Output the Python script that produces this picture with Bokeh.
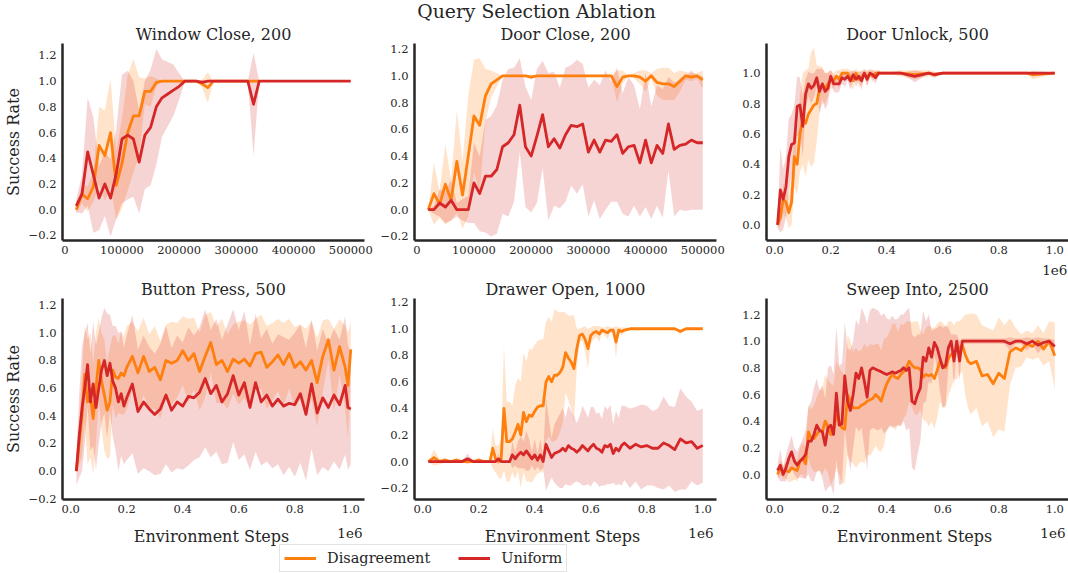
import numpy as np
from bokeh.plotting import figure
from bokeh.layouts import column, row
from bokeh.models import (Range1d, FixedTicker, CustomJSTickFormatter, Label, Legend, LegendItem,
                          LinearAxis)
from bokeh.embed import file_html
from bokeh.resources import INLINE

# ---------------- data ----------------
# Window Close, 200
WC_X_DIS = list(range(20000, 340001, 10000))
WC_X_UNI = list(range(20000, 500001, 10000))
WC_DIS_MEAN = [0.0, 0.12, 0.085, 0.18, 0.5, 0.42, 0.6, 0.19, 0.36, 0.6,
               0.73, 0.73, 0.92, 0.92, 0.99, 1.0, 1.0, 1.0, 1.0, 1.0,
               1.0, 1.0, 0.98, 0.95, 1.0, 1.0, 1.0, 1.0, 1.0, 1.0,
               1.0, 1.0, 1.0]
WC_DIS_STD = [0.03, 0.07, 0.1, 0.12, 0.3, 0.35, 0.42, 0.27, 0.35, 0.45,
              0.44, 0.3, 0.1, 0.12, 0.03, 0.0, 0.0, 0.0, 0.0, 0.0,
              0.0, 0.0, 0.03, 0.12, 0.0, 0.0, 0.0, 0.0, 0.0, 0.0,
              0.0, 0.0, 0.0]
WC_UNI_MEAN = [0.03, 0.12, 0.45, 0.27, 0.09, 0.2, 0.09, 0.28, 0.55, 0.58,
               0.55, 0.37, 0.58, 0.64, 0.8, 0.87, 0.9, 0.93, 0.96, 1.0,
               1.0, 1.0, 0.99, 1.0, 1.0, 1.0, 1.0, 1.0, 1.0, 1.0,
               1.0, 0.82, 1.0, 1.0, 1.0, 1.0, 1.0, 1.0, 1.0, 1.0,
               1.0, 1.0, 1.0, 1.0, 1.0, 1.0, 1.0, 1.0, 1.0]
WC_UNI_STD = [0.05, 0.15, 0.42, 0.45, 0.25, 0.25, 0.3, 0.35, 0.5, 0.5,
              0.45, 0.4, 0.42, 0.45, 0.45, 0.3, 0.25, 0.2, 0.1, 0.0,
              0.0, 0.0, 0.02, 0.0, 0.0, 0.0, 0.0, 0.0, 0.0, 0.0,
              0.0, 0.4, 0.0, 0.0, 0.0, 0.0, 0.0, 0.0, 0.0, 0.0,
              0.0, 0.0, 0.0, 0.0, 0.0, 0.0, 0.0, 0.0, 0.0]

# Door Close, 200
DC_X = list(range(20000, 500001, 10000))
DC_DIS_MEAN = [0.0, 0.12, 0.04, 0.19, 0.07, 0.36, 0.11, 0.4, 0.7, 0.63,
               0.85, 0.94, 0.97, 1.0, 1.0, 1.0, 1.0, 1.0, 0.99, 1.0,
               1.0, 1.0, 1.0, 1.0, 1.0, 1.0, 1.0, 1.0, 1.0, 1.0,
               1.0, 1.0, 1.0, 0.92, 0.99, 1.0, 1.0, 0.99, 0.96, 1.0,
               0.95, 0.94, 0.94, 0.92, 0.96, 1.0, 0.99, 1.0, 0.97]
DC_DIS_STD = [0.0, 0.23, 0.1, 0.3, 0.15, 0.38, 0.25, 0.45, 0.42, 0.5,
              0.2, 0.1, 0.05, 0.0, 0.0, 0.0, 0.0, 0.0, 0.02, 0.0,
              0.0, 0.0, 0.0, 0.0, 0.0, 0.0, 0.0, 0.0, 0.0, 0.0,
              0.0, 0.0, 0.0, 0.12, 0.05, 0.0, 0.02, 0.05, 0.08, 0.02,
              0.1, 0.12, 0.12, 0.1, 0.08, 0.03, 0.03, 0.02, 0.07]
DC_UNI_MEAN = [0.0, 0.0, 0.05, 0.02, 0.07, 0.0, 0.0, 0.0, 0.2, 0.12,
               0.25, 0.25, 0.3, 0.47, 0.5, 0.56, 0.78, 0.47, 0.4, 0.55,
               0.71, 0.47, 0.53, 0.46, 0.56, 0.63, 0.62, 0.64, 0.43, 0.52,
               0.43, 0.52, 0.51, 0.56, 0.42, 0.47, 0.48, 0.35, 0.52, 0.35,
               0.48, 0.42, 0.64, 0.45, 0.48, 0.49, 0.52, 0.5, 0.5]
DC_UNI_STD = [0.0, 0.03, 0.1, 0.12, 0.15, 0.05, 0.08, 0.1, 0.3, 0.28,
              0.42, 0.45, 0.48, 0.5, 0.55, 0.5, 0.35, 0.45, 0.42, 0.5,
              0.4, 0.55, 0.5, 0.45, 0.5, 0.45, 0.5, 0.45, 0.48, 0.45,
              0.5, 0.52, 0.45, 0.5, 0.45, 0.52, 0.45, 0.4, 0.5, 0.42,
              0.45, 0.48, 0.35, 0.5, 0.48, 0.5, 0.52, 0.5, 0.5]

# Door Unlock, 500
DU_X = list(range(10000, 390001, 10000)) + [450000, 500000, 550000, 570000, 600000,
                                            700000, 800000, 900000, 920000, 1000000]
DU_DIS_MEAN = [0.0, 0.05, 0.17, 0.15, 0.08, 0.15, 0.45, 0.4, 0.6, 0.7,
               0.67, 0.73, 0.76, 0.79, 0.8, 0.9, 0.92, 0.9, 0.93, 0.96,
               0.95, 0.98, 0.96, 1.0, 1.0, 1.0, 0.97, 0.95, 1.0, 0.96,
               0.97, 1.0, 0.97, 1.0, 0.98, 1.0, 1.0, 1.0, 1.0,
               1.0, 0.99, 1.0, 0.99, 1.0, 1.0, 1.0, 1.0, 0.99, 1.0]
DU_DIS_STD = [0.02, 0.06, 0.1, 0.1, 0.1, 0.15, 0.2, 0.2, 0.25, 0.3,
              0.35, 0.3, 0.38, 0.38, 0.25, 0.15, 0.12, 0.1, 0.08, 0.06,
              0.05, 0.04, 0.06, 0.03, 0.03, 0.03, 0.05, 0.06, 0.03, 0.05,
              0.05, 0.03, 0.05, 0.03, 0.04, 0.02, 0.02, 0.01, 0.0,
              0.02, 0.03, 0.02, 0.02, 0.0, 0.0, 0.0, 0.0, 0.03, 0.0]
DU_UNI_MEAN = [0.0, 0.23, 0.17, 0.25, 0.45, 0.53, 0.54, 0.78, 0.79, 0.65,
               0.86, 0.93, 0.9, 0.92, 0.97, 0.88, 0.93, 0.88, 0.9, 0.98,
               0.93, 0.93, 0.93, 0.97, 0.96, 0.98, 0.95, 0.99, 0.96, 0.98,
               0.95, 1.0, 0.96, 1.0, 0.99, 0.97, 1.0, 1.0, 1.0,
               1.0, 0.98, 1.0, 0.99, 1.0, 1.0, 1.0, 1.0, 1.0, 1.0]
DU_UNI_STD = [0.02, 0.28, 0.2, 0.2, 0.25, 0.2, 0.25, 0.2, 0.18, 0.2,
              0.1, 0.08, 0.1, 0.08, 0.06, 0.15, 0.1, 0.12, 0.1, 0.04,
              0.05, 0.06, 0.05, 0.04, 0.05, 0.03, 0.06, 0.03, 0.05, 0.03,
              0.06, 0.02, 0.05, 0.02, 0.03, 0.04, 0.02, 0.0, 0.0,
              0.0, 0.04, 0.0, 0.02, 0.0, 0.0, 0.0, 0.0, 0.0, 0.0]

# Button Press, 500
BP_X = list(range(20000, 200001, 10000)) + list(range(220000, 980001, 20000)) + [990000, 1000000]
BP_DIS_MEAN = [0.0, 0.2, 0.4, 0.7, 0.5, 0.55, 0.38, 0.6, 0.8, 0.65,
               0.55, 0.44, 0.5, 0.73, 0.68, 0.67, 0.71, 0.69, 0.75,
               0.83, 0.71, 0.83, 0.72, 0.75, 0.66, 0.8, 0.78, 0.8, 0.87,
               0.8, 0.85, 0.72, 0.83, 0.93, 0.77, 0.8, 0.72, 0.81, 0.78,
               0.81, 0.76, 0.85, 0.86, 0.75, 0.79, 0.84, 0.77, 0.85, 0.75,
               0.79, 0.73, 0.8, 0.64, 0.83, 0.95, 0.73, 0.9, 0.75,
               0.62, 0.88]
BP_DIS_STD = [0.0, 0.15, 0.3, 0.35, 0.45, 0.45, 0.4, 0.4, 0.3, 0.35,
              0.4, 0.35, 0.4, 0.25, 0.3, 0.25, 0.3, 0.28, 0.3,
              0.25, 0.3, 0.28, 0.27, 0.3, 0.28, 0.26, 0.3, 0.27, 0.25,
              0.3, 0.26, 0.28, 0.3, 0.22, 0.28, 0.3, 0.27, 0.25, 0.3,
              0.28, 0.3, 0.25, 0.27, 0.3, 0.28, 0.26, 0.3, 0.25, 0.29,
              0.27, 0.3, 0.28, 0.32, 0.26, 0.15, 0.3, 0.2, 0.3,
              0.38, 0.2]
BP_UNI_MEAN = [0.0, 0.25, 0.45, 0.6, 0.77, 0.5, 0.63, 0.46, 0.6, 0.73,
               0.8, 0.69, 0.78, 0.65, 0.6, 0.5, 0.56, 0.47, 0.53,
               0.63, 0.43, 0.5, 0.45, 0.41, 0.45, 0.55, 0.44, 0.5, 0.47,
               0.54, 0.53, 0.57, 0.67, 0.56, 0.62, 0.5, 0.56, 0.69, 0.55,
               0.64, 0.46, 0.64, 0.5, 0.55, 0.47, 0.52, 0.47, 0.49, 0.48,
               0.56, 0.41, 0.63, 0.42, 0.53, 0.46, 0.55, 0.48, 0.62,
               0.46, 0.45]
BP_UNI_STD = [0.1, 0.3, 0.45, 0.4, 0.3, 0.35, 0.45, 0.45, 0.4, 0.38,
              0.38, 0.45, 0.35, 0.4, 0.45, 0.5, 0.45, 0.42, 0.45,
              0.5, 0.45, 0.48, 0.45, 0.44, 0.47, 0.5, 0.45, 0.48, 0.46,
              0.5, 0.45, 0.47, 0.5, 0.46, 0.48, 0.45, 0.5, 0.48, 0.47,
              0.52, 0.45, 0.5, 0.46, 0.48, 0.45, 0.47, 0.5, 0.46, 0.52,
              0.5, 0.48, 0.47, 0.45, 0.5, 0.46, 0.48, 0.47, 0.5,
              0.45, 0.4]

# Drawer Open, 1000
DO_X = list(range(20000, 240001, 20000)) + list(range(250000, 720001, 10000)) + list(range(740000, 1000001, 20000))
DO_DIS_MEAN = [0.0, 0.03, 0.0, 0.01, 0.0, 0.01, 0.0, 0.0, 0.0, 0.01, 0.0, 0.0,
               0.1, 0.02, 0.0, 0.02, 0.4, 0.15, 0.15, 0.17, 0.22, 0.28,
               0.2, 0.37, 0.3, 0.35, 0.34, 0.38, 0.41, 0.42, 0.42, 0.6,
               0.64, 0.6, 0.65, 0.65, 0.67, 0.71, 0.82, 0.78, 0.75, 0.7,
               0.85, 0.95, 0.96, 0.92, 0.85, 0.95, 0.97, 0.98, 0.96, 0.99,
               0.98, 0.97, 0.99, 0.99, 0.9, 0.99, 0.98, 0.99,
               1.0, 1.0, 1.0, 1.0, 1.0, 1.0, 1.0, 1.0, 1.0, 0.98, 1.0, 1.0, 1.0, 1.0]
DO_DIS_STD = [0.0, 0.06, 0.02, 0.02, 0.0, 0.02, 0.0, 0.0, 0.0, 0.02, 0.0, 0.0,
              0.15, 0.1, 0.12, 0.15, 0.47, 0.3, 0.3, 0.25, 0.35, 0.35,
              0.4, 0.45, 0.45, 0.5, 0.5, 0.5, 0.5, 0.5, 0.5, 0.45,
              0.45, 0.45, 0.5, 0.48, 0.45, 0.42, 0.3, 0.32, 0.35, 0.4,
              0.15, 0.05, 0.05, 0.1, 0.15, 0.06, 0.05, 0.04, 0.06, 0.02,
              0.03, 0.05, 0.02, 0.02, 0.12, 0.02, 0.03, 0.02,
              0.0, 0.0, 0.0, 0.0, 0.0, 0.0, 0.0, 0.0, 0.0, 0.02, 0.0, 0.0, 0.0, 0.0]
DO_UNI_MEAN = [0.0, 0.0, 0.0, 0.0, 0.0, 0.0, 0.0, 0.02, 0.0, 0.0, 0.0, 0.0,
               0.0, 0.0, 0.02, 0.0, 0.0, 0.0, 0.0, 0.05, 0.02, 0.05,
               0.07, 0.05, 0.08, 0.05, 0.02, 0.05, 0.01, 0.05, 0.0, 0.13,
               0.08, 0.03, 0.06, 0.07, 0.08, 0.1, 0.08, 0.12, 0.1, 0.09,
               0.07, 0.09, 0.12, 0.1, 0.08, 0.11, 0.13, 0.1, 0.09, 0.07,
               0.12, 0.11, 0.13, 0.06, 0.1, 0.08, 0.12, 0.14,
               0.1, 0.13, 0.11, 0.12, 0.1, 0.1, 0.14, 0.12, 0.09, 0.17, 0.14, 0.15, 0.1, 0.12]
DO_UNI_STD = [0.0, 0.0, 0.0, 0.0, 0.0, 0.0, 0.0, 0.04, 0.0, 0.0, 0.0, 0.0,
              0.0, 0.0, 0.04, 0.0, 0.0, 0.0, 0.0, 0.1, 0.05, 0.1,
              0.12, 0.1, 0.15, 0.12, 0.05, 0.12, 0.05, 0.12, 0.05, 0.35,
              0.25, 0.15, 0.22, 0.25, 0.28, 0.3, 0.25, 0.3, 0.28, 0.25,
              0.22, 0.25, 0.3, 0.28, 0.25, 0.3, 0.28, 0.26, 0.28, 0.25,
              0.3, 0.28, 0.3, 0.22, 0.28, 0.25, 0.3, 0.28,
              0.3, 0.28, 0.32, 0.3, 0.28, 0.3, 0.35, 0.3, 0.32, 0.38, 0.35, 0.3, 0.28, 0.28]

# Sweep Into, 2500
SI_X = list(range(10000, 700001, 10000)) + list(range(720000, 1000001, 20000))
SI_DIS_MEAN = [0.0, 0.05, 0.02, 0.03, 0.02, 0.05, 0.04, 0.03, 0.1, 0.12,
               0.08, 0.32, 0.27, 0.27, 0.3, 0.33, 0.32, 0.4, 0.36, 0.3,
               0.32, 0.45, 0.4, 0.35, 0.34, 0.6, 0.55, 0.5, 0.5, 0.5,
               0.52, 0.53, 0.55, 0.56, 0.57, 0.6, 0.58, 0.55, 0.62, 0.68,
               0.72, 0.75, 0.73, 0.72, 0.75, 0.77, 0.8, 0.85, 0.82, 0.8,
               0.8, 0.79, 0.73, 0.75, 0.74, 0.75, 0.72, 0.78, 0.85, 0.82,
               0.8, 0.87, 0.9, 0.92, 0.93, 0.95, 0.97, 0.9, 0.85, 0.83,
               0.85, 0.74, 0.75, 0.68, 0.76, 0.72, 0.92, 0.95, 0.93, 0.98,
               0.96, 1.0, 0.94, 1.0, 0.89]
SI_DIS_STD = [0.03, 0.06, 0.05, 0.06, 0.08, 0.1, 0.08, 0.08, 0.1, 0.12,
              0.12, 0.2, 0.22, 0.25, 0.28, 0.3, 0.32, 0.35, 0.35, 0.38,
              0.35, 0.4, 0.4, 0.42, 0.4, 0.45, 0.45, 0.42, 0.45, 0.42,
              0.42, 0.45, 0.4, 0.42, 0.4, 0.38, 0.4, 0.38, 0.4, 0.35,
              0.35, 0.38, 0.4, 0.35, 0.38, 0.35, 0.35, 0.3, 0.32, 0.35,
              0.35, 0.3, 0.32, 0.35, 0.38, 0.35, 0.38, 0.35, 0.3, 0.32,
              0.3, 0.28, 0.25, 0.2, 0.22, 0.2, 0.2, 0.3, 0.35, 0.38,
              0.35, 0.38, 0.35, 0.4, 0.42, 0.4, 0.25, 0.15, 0.12, 0.1,
              0.1, 0.12, 0.12, 0.15, 0.25]
SI_UNI_MEAN = [0.03, 0.07, 0.0, 0.05, 0.12, 0.17, 0.1, 0.07, 0.1, 0.12,
               0.15, 0.25, 0.25, 0.3, 0.37, 0.33, 0.32, 0.22, 0.35, 0.37,
               0.3, 0.61, 0.37, 0.38, 0.74, 0.55, 0.48, 0.6, 0.76, 0.72,
               0.8, 0.7, 0.58, 0.78, 0.8, 0.79, 0.78, 0.77, 0.76, 0.75,
               0.76, 0.77, 0.76, 0.77, 0.78, 0.8, 0.78, 0.8, 0.55, 0.53,
               0.6, 0.65, 0.88, 0.85, 0.95, 0.88, 0.99, 0.95, 0.87, 0.8,
               0.82, 0.95, 1.0, 0.85, 1.0, 0.85, 1.0, 1.0, 1.0, 1.0,
               1.0, 1.0, 1.0, 1.0, 1.0, 1.0, 0.98, 1.0, 1.0, 0.98,
               1.0, 0.97, 0.99, 1.0, 0.96]
SI_UNI_STD = [0.05, 0.12, 0.05, 0.1, 0.1, 0.12, 0.1, 0.1, 0.12, 0.15,
              0.18, 0.25, 0.3, 0.35, 0.35, 0.3, 0.35, 0.35, 0.45, 0.45,
              0.45, 0.5, 0.45, 0.45, 0.4, 0.4, 0.45, 0.4, 0.4, 0.4,
              0.45, 0.5, 0.55, 0.45, 0.45, 0.45, 0.45, 0.42, 0.45, 0.42,
              0.4, 0.42, 0.4, 0.4, 0.42, 0.4, 0.45, 0.45, 0.5, 0.5,
              0.45, 0.4, 0.35, 0.3, 0.25, 0.2, 0.1, 0.15, 0.25, 0.3,
              0.3, 0.15, 0.05, 0.2, 0.05, 0.15, 0.02, 0.02, 0.02, 0.02,
              0.02, 0.02, 0.02, 0.02, 0.02, 0.02, 0.05, 0.02, 0.02, 0.05,
              0.02, 0.06, 0.03, 0.02, 0.05]

SERIES_NAMES = ["Disagreement", "Uniform"]
Y_TICKS = [-0.2, 0.0, 0.2, 0.4, 0.6, 0.8, 1.0, 1.2]
X_TICKS_K = [0, 100000, 200000, 300000, 400000, 500000]
X_TICKS_M = [0.0, 0.2, 0.4, 0.6, 0.8, 1.0]

# ---------------- style ----------------
FONT = "DejaVu Serif"
INK = "#262626"
ORANGE = "#ff7f0e"
RED = "#d62728"
FRAME_W = 302
W = 1068

fmt_int = CustomJSTickFormatter(code="return tick.toFixed(0);")
fmt_one = CustomJSTickFormatter(code="return tick.toFixed(1);")
fmt_y = CustomJSTickFormatter(code="return (tick < -1e-9 ? '\\u2212' : '') + Math.abs(tick).toFixed(1);")


def check(*arrs):
    n = len(arrs[0])
    for a in arrs:
        if len(a) != n:
            raise ValueError("length mismatch %d vs %d" % (len(a), n))


def make_panel(title, xd, md, sd, xu, mu, su, scale, xr, yr, xticks, xfmt, fh, borders,
               ylabel=None, offset_text=False):
    check(xd, md, sd)
    check(xu, mu, su)
    ml, mr, mt, mb = borders
    p = figure(frame_width=FRAME_W, frame_height=fh,
               min_border_left=ml, min_border_right=mr, min_border_top=mt, min_border_bottom=mb,
               x_range=Range1d(*xr), y_range=Range1d(*yr),
               toolbar_location=None, output_backend="svg")
    p.title.text = title
    p.title.text_font = FONT
    p.title.text_font_size = "16px"
    p.title.text_font_style = "normal"
    p.title.text_color = INK
    p.title.align = "center"
    p.title.standoff = 0
    p.background_fill_color = "white"
    p.border_fill_color = "white"
    p.outline_line_color = None
    p.xgrid.visible = False
    p.ygrid.visible = False

    xd_ = np.array(xd, dtype=float) / scale
    xu_ = np.array(xu, dtype=float) / scale
    md_, sd_ = np.array(md), np.array(sd)
    mu_, su_ = np.array(mu), np.array(su)
    p.varea(x=xd_, y1=md_ - sd_, y2=md_ + sd_, fill_color=ORANGE, fill_alpha=0.22)
    p.varea(x=xu_, y1=mu_ - su_, y2=mu_ + su_, fill_color=RED, fill_alpha=0.2)
    p.line(x=xd_, y=md_, line_color=ORANGE, line_width=2.8, line_join="round")
    p.line(x=xu_, y=mu_, line_color=RED, line_width=2.8, line_join="round")

    for ax in (p.xaxis[0], p.yaxis[0]):
        ax.axis_line_color = INK
        ax.axis_line_width = 2.5
        ax.major_tick_line_color = None
        ax.minor_tick_line_color = None
        ax.major_tick_in = 0
        ax.major_tick_out = 0
        ax.minor_tick_in = 0
        ax.minor_tick_out = 0
        ax.major_label_text_font = FONT
        ax.major_label_text_font_size = "11.5px"
        ax.major_label_text_color = INK
        ax.major_label_standoff = 6
        ax.axis_label_text_font = FONT
        ax.axis_label_text_font_size = "16px"
        ax.axis_label_text_font_style = "normal"
        ax.axis_label_text_color = INK
    p.xaxis[0].ticker = FixedTicker(ticks=xticks)
    p.xaxis[0].formatter = xfmt
    p.xaxis[0].major_label_standoff = 5
    p.yaxis[0].ticker = FixedTicker(ticks=Y_TICKS)
    p.yaxis[0].formatter = fmt_y
    if ylabel:
        p.yaxis[0].axis_label = ylabel
        p.yaxis[0].axis_label_standoff = 3
    if offset_text:
        # scale-offset text "1e6" under the right end of the x axis
        off_ax = LinearAxis(ticker=FixedTicker(ticks=[xticks[-1]]),
                            formatter=CustomJSTickFormatter(code="return '1e6';"),
                            axis_line_color=None, major_tick_line_color=None,
                            minor_tick_line_color=None, major_tick_in=0, major_tick_out=0,
                            minor_tick_in=0, minor_tick_out=0, major_label_standoff=8,
                            major_label_text_font=FONT, major_label_text_font_size="13.5px",
                            major_label_text_color=INK)
        p.add_layout(off_ax, "below")
    return p


def strip(height):
    s = figure(frame_width=W, frame_height=height, min_border_left=0, min_border_right=0,
               min_border_top=0, min_border_bottom=0, x_axis_type=None, y_axis_type=None,
               x_range=Range1d(0, W), y_range=Range1d(0, height),
               toolbar_location=None, output_backend="svg")
    s.outline_line_color = None
    s.background_fill_color = "white"
    s.border_fill_color = "white"
    return s


XR_K = (-4000, 524000)
XR_M = (-0.0295, 1.049)
ROW1_H, ROW2_H = 197, 201
TOP_H, BOT_H = 22, 55
B1 = [(60, 13, 21, 37), (36, 22, 21, 37), (28, 3, 21, 37)]
B2 = [(60, 13, 21, 19), (36, 22, 21, 19), (28, 3, 21, 19)]

p1 = make_panel("Window Close, 200", WC_X_DIS, WC_DIS_MEAN, WC_DIS_STD,
                WC_X_UNI, WC_UNI_MEAN, WC_UNI_STD, 1, XR_K, (-0.24, 1.293),
                X_TICKS_K, fmt_int, ROW1_H, B1[0], ylabel="Success Rate")
p2 = make_panel("Door Close, 200", DC_X, DC_DIS_MEAN, DC_DIS_STD,
                DC_X, DC_UNI_MEAN, DC_UNI_STD, 1, XR_K, (-0.23, 1.241),
                X_TICKS_K, fmt_int, ROW1_H, B1[1])
p3 = make_panel("Door Unlock, 500", DU_X, DU_DIS_MEAN, DU_DIS_STD,
                DU_X, DU_UNI_MEAN, DU_UNI_STD, 1e6, XR_M, (-0.103, 1.196),
                X_TICKS_M, fmt_one, ROW1_H, B1[2], offset_text=True)
p4 = make_panel("Button Press, 500", BP_X, BP_DIS_MEAN, BP_DIS_STD,
                BP_X, BP_UNI_MEAN, BP_UNI_STD, 1e6, XR_M, (-0.205, 1.248),
                X_TICKS_M, fmt_one, ROW2_H, B2[0], ylabel="Success Rate")
p5 = make_panel("Drawer Open, 1000", DO_X, DO_DIS_MEAN, DO_DIS_STD,
                DO_X, DO_UNI_MEAN, DO_UNI_STD, 1e6, XR_M, (-0.286, 1.228),
                X_TICKS_M, fmt_one, ROW2_H, B2[1])
p6 = make_panel("Sweep Into, 2500", SI_X, SI_DIS_MEAN, SI_DIS_STD,
                SI_X, SI_UNI_MEAN, SI_UNI_STD, 1e6, XR_M, (-0.1875, 1.32),
                X_TICKS_M, fmt_one, ROW2_H, B2[2])

# top strip: figure super-title, centred 11px below the page top
top = strip(TOP_H)
top.add_layout(Label(x=536, y=TOP_H - 11, text="Query Selection Ablation", text_align="center",
                     text_baseline="middle", text_font=FONT, text_font_size="18.8px",
                     text_color=INK))

# bottom strip: shared x-axis labels, offset texts and the legend
bot = strip(BOT_H)
for cx, right in ((211, 362), (562, 713), (914, 1065)):
    bot.add_layout(Label(x=cx, y=BOT_H - 18, text="Environment Steps", text_align="center",
                         text_baseline="middle", text_font=FONT, text_font_size="16px",
                         text_color=INK))
    bot.add_layout(Label(x=right, y=BOT_H - 14.5, text="1e6", text_align="right",
                         text_baseline="middle", text_font=FONT, text_font_size="13.5px",
                         text_color=INK))
# legend glyph renderers (their data lies outside this strip's visible range)
r_dis = bot.line(x=SI_X, y=SI_DIS_MEAN, line_color=ORANGE, line_width=2.8)
r_uni = bot.line(x=SI_X, y=SI_UNI_MEAN, line_color=RED, line_width=2.8)
leg = Legend(items=[LegendItem(label=SERIES_NAMES[0], renderers=[r_dis]),
                    LegendItem(label=SERIES_NAMES[1], renderers=[r_uni])],
             orientation="horizontal", location=(279, 1), margin=0, padding=4,
             spacing=28, glyph_width=32, glyph_height=18, label_height=18,
             label_standoff=11, label_text_font=FONT, label_text_font_size="14.5px",
             label_text_color=INK, border_line_color="#c8c8c8", border_line_width=1.2,
             background_fill_color="white", background_fill_alpha=1.0)
bot.add_layout(leg)

layout = column(top, row(p1, p2, p3), row(p4, p5, p6), bot)
with open("out.html", "w", encoding="utf-8") as f:
    f.write(file_html(layout, INLINE))
